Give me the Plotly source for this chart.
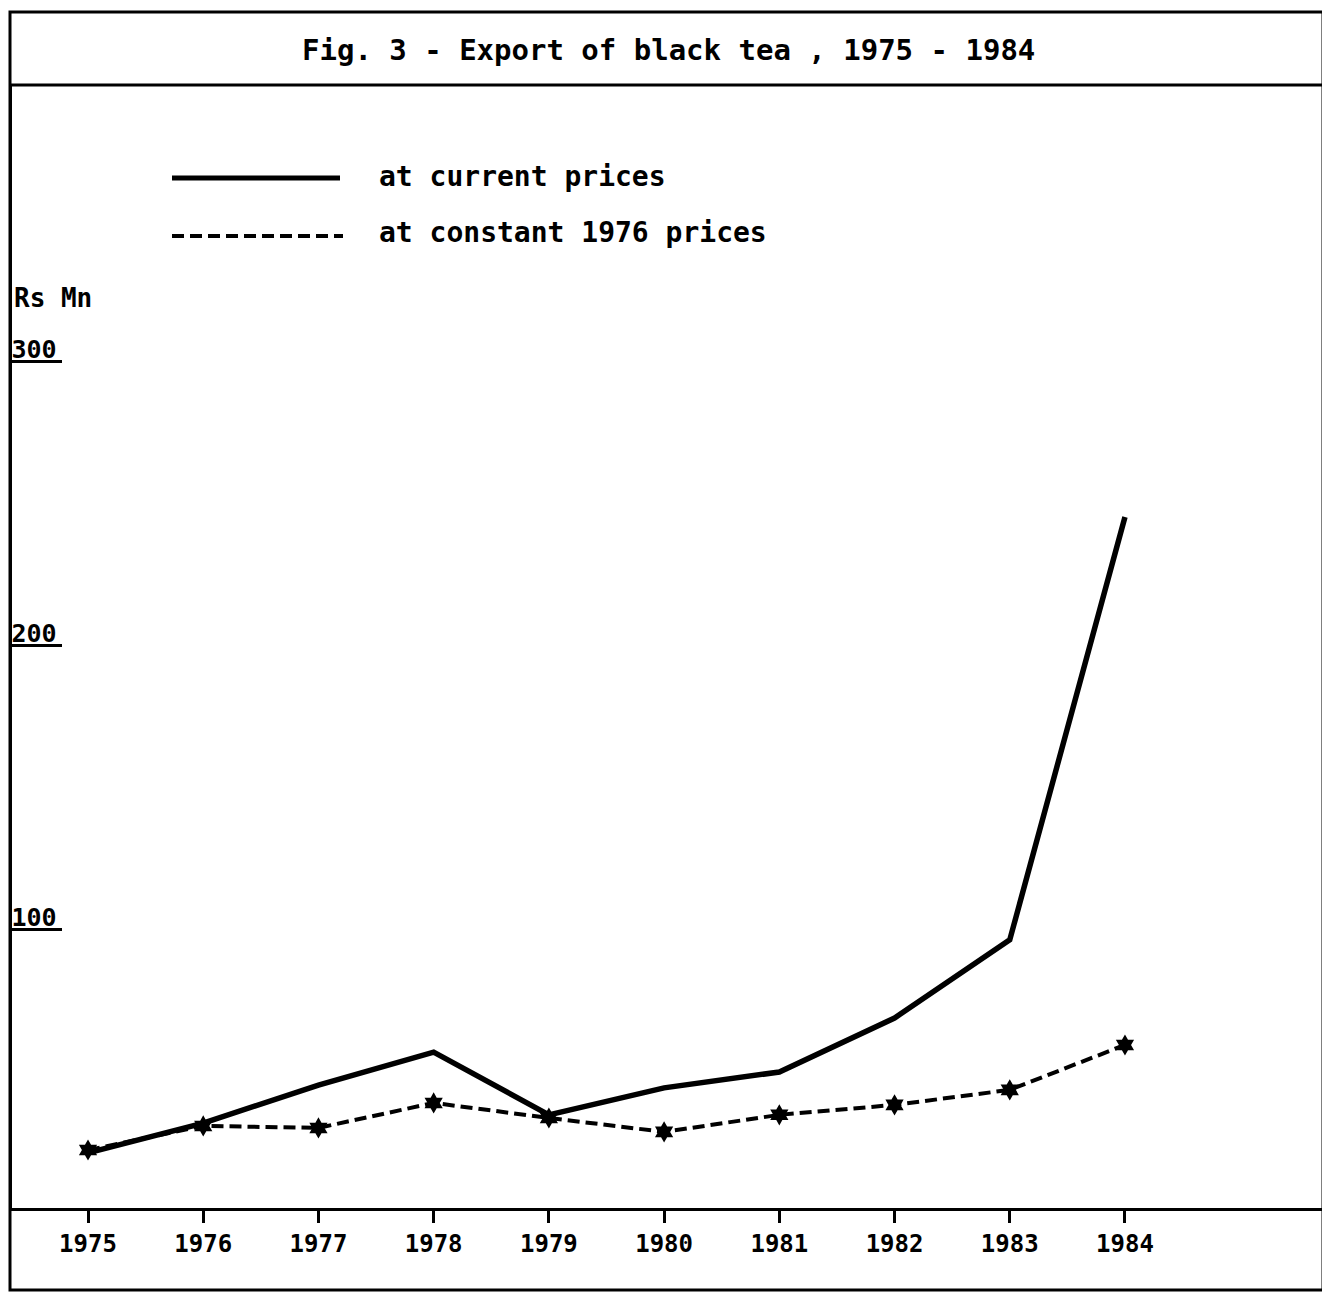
import plotly.graph_objects as go

years = [1975, 1976, 1977, 1978, 1979, 1980, 1981, 1982, 1983, 1984]
tick_labels = ["1975", "1976", "1977", "1978", "1979", "1980", "1981", "1982", "1983", "1984"]
current_prices = [21.5, 32.0, 45.4, 57.0, 34.9, 44.4, 50.0, 69.0, 96.5, 245.4]
constant_1976_prices = [22.5, 31.0, 30.3, 39.1, 33.8, 28.9, 34.9, 38.4, 43.7, 59.5]
y_ticks = [100, 200, 300]

MONO = "DejaVu Sans Mono"
OFF = 8  # page body margin
W, H = 1322, 1287
ML, MR, MT, MB = 4, 8, 77, 87
PW, PH = W - ML - MR, H - MT - MB


def px(x):
    return (x - OFF - ML) / PW


def py(y):
    return (H - MB - (y - OFF)) / PH


fig = go.Figure()
fig.add_trace(go.Scatter(
    x=years, y=current_prices, mode="lines", name="at current prices",
    line=dict(color="black", width=5.5), showlegend=False,
))
fig.add_trace(go.Scatter(
    x=years, y=constant_1976_prices, mode="lines+markers", name="at constant 1976 prices",
    line=dict(color="black", width=4, dash="12px,6px"),
    marker=dict(symbol="hexagram", size=16, color="black"),
    showlegend=False,
))

shapes = [
    dict(type="rect", xref="paper", yref="paper", x0=px(10), x1=px(1323), y0=py(1290), y1=py(12),
         line=dict(color="black", width=3)),
    dict(type="line", xref="paper", yref="paper", x0=px(10), x1=px(1323), y0=1, y1=1,
         line=dict(color="black", width=3)),
    dict(type="line", xref="paper", yref="paper", x0=px(172), x1=px(340), y0=py(178), y1=py(178),
         line=dict(color="black", width=5)),
    dict(type="line", xref="paper", yref="paper", x0=px(172), x1=px(343), y0=py(236), y1=py(236),
         line=dict(color="black", width=4, dash="12px,6px")),
]

annotations = [
    dict(text="Fig. 3 - Export of black tea , 1975 - 1984", xref="paper", yref="paper",
         x=px(668), y=py(50), xanchor="center", yanchor="middle", showarrow=False,
         font=dict(family=MONO, size=29, color="black", weight="bold")),
    dict(text="at current prices", xref="paper", yref="paper",
         x=px(377), y=py(176), xanchor="left", yanchor="middle", showarrow=False,
         font=dict(family=MONO, size=28, color="black", weight="bold")),
    dict(text="at constant 1976 prices", xref="paper", yref="paper",
         x=px(377), y=py(232), xanchor="left", yanchor="middle", showarrow=False,
         font=dict(family=MONO, size=28, color="black", weight="bold")),
    dict(text="Rs Mn", xref="paper", yref="paper",
         x=px(12), y=py(298), xanchor="left", yanchor="middle", showarrow=False,
         font=dict(family=MONO, size=26, color="black", weight="bold")),
]

fig.update_layout(
    width=W, height=H,
    margin=dict(l=ML, r=MR, t=MT, b=MB),
    paper_bgcolor="white", plot_bgcolor="white",
    shapes=shapes, annotations=annotations,
    xaxis=dict(
        range=[1975 - 76 / 115.2, 1984 + 197 / 115.2],
        tickmode="array", tickvals=years, ticktext=tick_labels,
        ticks="outside", ticklen=12, tickwidth=3, tickcolor="black",
        showline=True, linewidth=3, linecolor="black",
        showgrid=False, zeroline=False,
        tickfont=dict(family=MONO, size=24, color="black", weight="bold"),
        ticklabelstandoff=0,
    ),
    yaxis=dict(
        range=[2.1, 397.5],
        tickmode="array", tickvals=y_ticks, ticktext=[str(v) for v in y_ticks],
        ticks="inside", ticklen=50, tickwidth=3, tickcolor="black",
        ticklabelposition="inside top", ticklabelshift=6,
        showline=True, linewidth=3, linecolor="black",
        showgrid=False, zeroline=False,
        tickfont=dict(family=MONO, size=25, color="black", weight="bold"),
    ),
)

fig.write_html("out.html")
